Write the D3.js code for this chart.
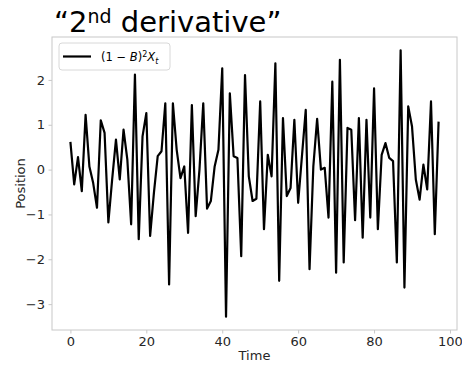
<!DOCTYPE html>
<html><head><meta charset="utf-8">
<script src="https://cdn.jsdelivr.net/npm/d3@7/dist/d3.min.js"></script>
<style>
body{margin:0;background:#fff;}
text{font-family:"DejaVu Sans",sans-serif;}
</style></head>
<body><svg id="c" width="462" height="366"></svg>
<script>
const values = [
 0.62,-0.33,0.28,-0.48,1.22,0.07,-0.30,-0.85,1.10,0.82,
 -1.18,-0.22,0.67,-0.22,0.89,0.22,-1.22,2.12,-1.55,0.74,
 1.26,-1.48,-0.52,0.30,0.41,1.48,-2.56,1.48,0.44,-0.19,
 0.07,-1.41,1.44,-1.04,0.00,1.48,-0.87,-0.70,0.07,0.44,
 2.26,-3.28,1.70,0.30,0.26,-1.93,2.11,-0.15,-0.70,-0.65,
 1.52,-1.33,0.33,-0.15,2.37,-2.48,1.15,-0.59,-0.41,1.11,
 -0.74,0.30,1.33,-2.22,0.07,1.13,0.00,0.04,-1.07,1.96,
 -2.30,2.45,-2.07,0.93,0.89,-1.13,1.15,-1.52,1.11,-1.07,
 1.81,-1.33,0.33,0.59,0.26,0.19,-2.07,2.66,-2.63,1.41,
 0.96,-0.22,-0.67,0.11,-0.44,1.52,-1.44,1.07];
const times = values.map((d,i)=>i);
const xTicks = [0,20,40,60,80,100];
const yTicks = [-3,-2,-1,0,1,2];
const titleMain = "derivative”";

const svg = d3.select("#c");
const L=52, R=457, T=37, B=330;
const xr = d3.extent(times), yr = d3.extent(values);
const xp=(xr[1]-xr[0])*0.05, yp=(yr[1]-yr[0])*0.05;
const x = d3.scaleLinear().domain([xr[0]-xp, xr[1]+xp]).range([L,R]);
const y = d3.scaleLinear().domain([yr[0]-yp, yr[1]+yp]).range([B,T]);

const spine="#c8c8c8", tc="#262626";
// axes
const gx = svg.append("g").attr("transform",`translate(0,${B})`)
  .call(d3.axisBottom(x).tickValues(xTicks).tickSize(3.5).tickPadding(3.5).tickFormat(d3.format("d")));
const gy = svg.append("g").attr("transform",`translate(${L},0)`)
  .call(d3.axisLeft(y).tickValues(yTicks).tickSize(3.5).tickPadding(3.5).tickFormat(d=>d<0?"\u2212"+Math.abs(d):d));
[gx,gy].forEach(g=>{
  g.select(".domain").remove();
  g.selectAll(".tick line").attr("stroke",spine);
  g.selectAll(".tick text").attr("fill",tc).style("font-size","13px").style("font-family","DejaVu Sans");
});
svg.append("rect").attr("x",L).attr("y",T).attr("width",R-L).attr("height",B-T)
  .attr("fill","none").attr("stroke",spine).attr("stroke-width",1);

// line
svg.append("path").datum(values)
  .attr("d", d3.line().x((d,i)=>x(times[i])).y(d=>y(d)))
  .attr("fill","none").attr("stroke","#000").attr("stroke-width",2.2).attr("stroke-linejoin","round");

// labels
svg.append("text").attr("x",(L+R)/2).attr("y",360).attr("text-anchor","middle")
  .attr("fill",tc).style("font-size","13px").text("Time");
svg.append("text").attr("transform",`translate(25,${(T+B)/2}) rotate(-90)`).attr("text-anchor","middle")
  .attr("fill",tc).style("font-size","13px").text("Position");

// title
const tt = svg.append("text").attr("x",54).attr("y",32).attr("fill","#000").style("font-size","29px");
tt.append("tspan").text("“2");
tt.append("tspan").attr("dy",-9).style("font-size","19px").text("nd");
tt.append("tspan").attr("dy",9).text(" "+titleMain);

// legend
svg.append("rect").attr("x",59).attr("y",43).attr("width",111).attr("height",27).attr("rx",3)
  .attr("fill","#fff").attr("fill-opacity",0.8).attr("stroke","#d8d8d8");
svg.append("line").attr("x1",63).attr("x2",91).attr("y1",56.5).attr("y2",56.5).attr("stroke","#000").attr("stroke-width",2.2);
const lt = svg.append("text").attr("x",101).attr("y",61).attr("fill","#000").style("font-size","11.5px");
lt.append("tspan").text("(1 \u2212 ");
lt.append("tspan").style("font-style","italic").text("B");
lt.append("tspan").text(")");
lt.append("tspan").attr("dy",-4).style("font-size","8px").text("2");
lt.append("tspan").attr("dy",4).style("font-style","italic").text("X");
lt.append("tspan").attr("dy",2.5).style("font-style","italic").style("font-size","8px").text("t");
</script></body></html>
